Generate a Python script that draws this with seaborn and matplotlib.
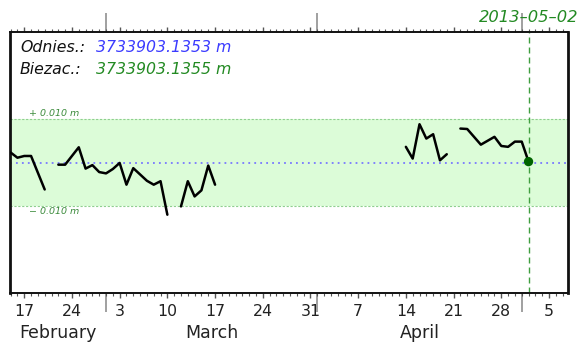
import numpy as np
import pandas as pd
import matplotlib
matplotlib.use("Agg")
import matplotlib.pyplot as plt
import matplotlib.dates as mdates
import matplotlib.transforms as mtransforms
from matplotlib.ticker import FuncFormatter, NullFormatter
import seaborn as sns

# ---------------- data ----------------
obs_dates = ['2013-02-15', '2013-02-16', '2013-02-17', '2013-02-18', '2013-02-20',
             '2013-02-22', '2013-02-23', '2013-02-25', '2013-02-26', '2013-02-27',
             '2013-02-28', '2013-03-01', '2013-03-02', '2013-03-03', '2013-03-04',
             '2013-03-05', '2013-03-07', '2013-03-08', '2013-03-09', '2013-03-10',
             '2013-03-12', '2013-03-13', '2013-03-14', '2013-03-15', '2013-03-16',
             '2013-03-17',
             '2013-04-14', '2013-04-15', '2013-04-16', '2013-04-17', '2013-04-18',
             '2013-04-19', '2013-04-20',
             '2013-04-22', '2013-04-23', '2013-04-25', '2013-04-27', '2013-04-28',
             '2013-04-29', '2013-04-30', '2013-05-01', '2013-05-02']
obs_mm = [2.3, 1.1, 1.5, 1.5, -6.2,
          -0.5, -0.5, 3.5, -1.4, -0.6,
          -2.2, -2.5, -1.5, -0.1, -5.1,
          -1.3, -4.2, -5.1, -4.3, -12.0,
          -10.1, -4.3, -7.8, -6.4, -0.7,
          -5.1,
          3.6, 0.9, 8.8, 5.5, 6.5,
          0.5, 1.9,
          7.8, 7.7, 4.1, 5.9, 3.8,
          3.6, 4.8, 4.8, 0.2]
segment = [1] * 5 + [2] * 15 + [3] * 6 + [4] * 7 + [5] * 9

ref_value = "3733903.1353 m"
cur_value = "3733903.1355 m"
current_date = "2013-05-02"
tolerance = 0.010
month_labels = ['February', 'March', 'April']
band_labels = ['+ 0.010 m', '\u2212 0.010 m']

df = pd.DataFrame({"date": pd.to_datetime(obs_dates),
                   "val": np.array(obs_mm) / 1000.0,
                   "seg": segment})

# ---------------- style ----------------
sns.set_style("white")
plt.rcParams['font.family'] = ['DejaVu Sans']

W, H = 584, 344
fig = plt.figure(figsize=(W / 100, H / 100), dpi=100)
ax = fig.add_axes([10 / W, 51 / H, 558 / W, 261 / H])

green_txt = '#238a23'
blue_txt = '#3b3bff'

ax.axhspan(-tolerance, tolerance, color='#dcfcd8', zorder=0, lw=0)
for yv in (tolerance, -tolerance):
    ax.axhline(yv, color='#8fcf8f', lw=0.8, ls=(0, (2, 1.5)), zorder=1)
ax.axhline(0, color='#7878ff', lw=1.3, ls=(0, (1, 2.3)), zorder=1)

sns.lineplot(data=df, x="date", y="val", units="seg", estimator=None,
             color='black', lw=1.8, ax=ax, legend=False, zorder=3)

cur_ts = pd.Timestamp(current_date)
ax.axvline(cur_ts, color='#3f9f3f', lw=1.0, ls=(0, (4.3, 2.9)), zorder=2)
last = df[df["date"] == cur_ts]
sns.scatterplot(data=last, x="date", y="val", color='#006400', s=45,
                edgecolor='none', ax=ax, zorder=4, legend=False)

# limits
mar1 = mdates.date2num(pd.Timestamp('2013-03-01'))
ax.set_xlim(mar1 - 14.09, mar1 + 67.79)
ax.set_ylim(-0.03, 0.03)
ax.set_xlabel('')
ax.set_ylabel('')
ax.set_yticks([])

# ticks
ax.xaxis.set_major_locator(mdates.WeekdayLocator(byweekday=mdates.SU))
ax.xaxis.set_minor_locator(mdates.DayLocator())
ax.xaxis.set_major_formatter(FuncFormatter(lambda x, p: str(mdates.num2date(x).day)))
ax.tick_params(axis='x', which='both', bottom=True, top=True, direction='out',
               labelbottom=True, labeltop=False, color='#555555')
ax.tick_params(axis='x', which='major', length=3.5, width=1.0, pad=4.5,
               labelsize=11.3, labelcolor='#222222')
ax.tick_params(axis='x', which='minor', length=2.0, width=0.8)

for pos in ('bottom', 'top'):
    sec = ax.secondary_xaxis(pos)
    sec.xaxis.set_major_locator(mdates.MonthLocator())
    sec.xaxis.set_major_formatter(NullFormatter())
    sec.xaxis.set_minor_locator(matplotlib.ticker.NullLocator())
    sec.tick_params(length=14, width=1.3, color='#999999')
    sec.spines[pos].set_visible(False)

for side, lw in (('left', 2.0), ('right', 2.0), ('top', 1.4), ('bottom', 1.4)):
    ax.spines[side].set_visible(True)
    ax.spines[side].set_linewidth(lw)
    ax.spines[side].set_color('#111111')

# month labels under the day numbers
x0, x1 = ax.get_xlim()
bounds = [x0] + [mdates.date2num(pd.Timestamp(f'2013-{m:02d}-01')) for m in (3, 4, 5)] + [x1]
trans_fy = mtransforms.blended_transform_factory(ax.transData, fig.transFigure)
for name, a, b in zip(month_labels, bounds[:-1], bounds[1:]):
    ax.text((a + b) / 2, 1 - 333 / H, name, transform=trans_fy, ha='center',
            va='center', fontsize=12.5, color='#222222')

# current date label on top
ax.text(mdates.date2num(cur_ts), 1 - 17 / H, current_date.replace('-', '\u2013'),
        transform=trans_fy, ha='center', va='center', fontsize=11.8,
        style='italic', color=green_txt, clip_on=False)

# info texts
fs_info = 11.3
fig.text(20 / W, 1 - 48 / H, 'Odnies.:', ha='left', va='center', fontsize=fs_info,
         style='italic', color='#111111')
fig.text(96 / W, 1 - 48 / H, ref_value, ha='left', va='center', fontsize=fs_info,
         style='italic', color=blue_txt)
fig.text(20 / W, 1 - 69 / H, 'Biezac.:', ha='left', va='center', fontsize=fs_info,
         style='italic', color='#111111')
fig.text(96 / W, 1 - 69 / H, cur_value, ha='left', va='center', fontsize=fs_info,
         style='italic', color=green_txt)

# band labels
trans_ay = mtransforms.blended_transform_factory(fig.transFigure, ax.transData)
ax.text(29 / W, tolerance + 0.0003, band_labels[0], transform=trans_ay, ha='left',
        va='bottom', fontsize=6.8, style='italic', color='#3a8a3a')
ax.text(29 / W, -tolerance - 0.0003, band_labels[1], transform=trans_ay, ha='left',
        va='top', fontsize=6.8, style='italic', color='#3a8a3a')

fig.savefig("out.png", dpi=100, facecolor='white')
